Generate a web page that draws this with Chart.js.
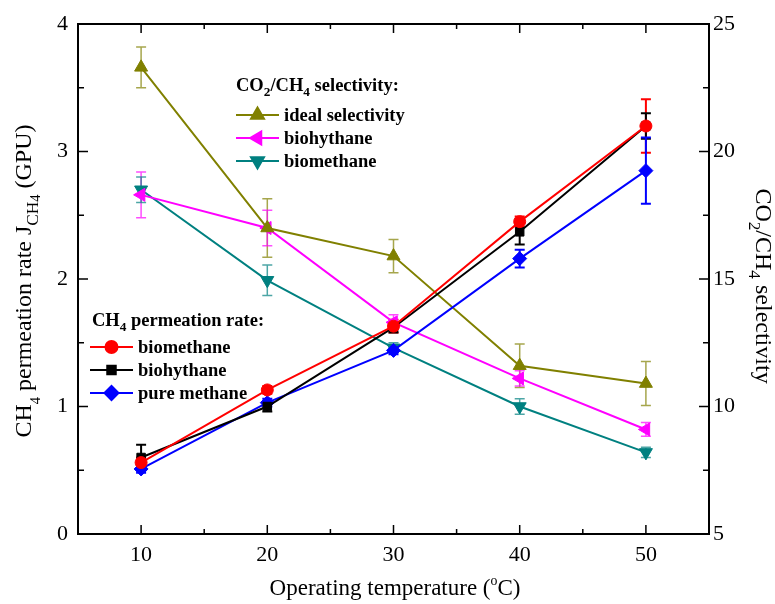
<!DOCTYPE html>
<html>
<head>
<meta charset="utf-8">
<script src="https://cdn.jsdelivr.net/npm/chart.js@4.4.0/dist/chart.umd.min.js"></script>
<style>
  html, body { margin: 0; padding: 0; background: #fff; }
  canvas { display: block; }
</style>
</head>
<body>
<canvas id="myChart" width="775" height="604"></canvas>
<script>
// operating temperature (oC)
const temps = [10, 20, 30, 40, 50];

// CH4 permeation rate (GPU), left axis
const permBiomethane = [0.56, 1.13, 1.63, 2.45, 3.20];
const permBiomethaneErr = [0.04, 0.03, 0.05, 0.04, 0.21];
const permBiohythane = [0.60, 1.00, 1.62, 2.37, 3.20];
const permBiohythaneErr = [0.10, 0.04, 0.04, 0.10, 0.10];
const permPure = [0.51, 1.03, 1.44, 2.16, 2.85];
const permPureErr = [0.03, 0.03, 0.03, 0.07, 0.26];

// CO2/CH4 selectivity, right axis
const selIdeal = [23.3, 17.0, 15.9, 11.6, 10.9];
const selIdealErr = [0.8, 1.15, 0.65, 0.85, 0.86];
const selBiohythane = [18.3, 17.0, 13.3, 11.1, 9.1];
const selBiohythaneErr = [0.9, 0.7, 0.3, 0.3, 0.27];
const selBiomethane = [18.5, 14.95, 12.3, 10.0, 8.2];
const selBiomethaneErr = [0.5, 0.6, 0.2, 0.3, 0.2];

// ticks
const xTicks = [10, 20, 30, 40, 50];
const xMinor = [15, 25, 35, 45];
const yTicks = [0, 1, 2, 3, 4];
const yMinor = [0.5, 1.5, 2.5, 3.5];
const y1Ticks = [5, 10, 15, 20, 25];
const y1Minor = [7.5, 12.5, 17.5, 22.5];

const serif = "'Liberation Serif', 'Times New Roman', serif";

function pts(vals) {
    return temps.map(function (t, i) { return {x: t, y: vals[i]}; });
}

function makeSet(label, vals, errs, color, style, radius, rot, axis) {
    return {
        label: label,
        data: pts(vals),
        errors: errs,
        yAxisID: axis,
        borderColor: color,
        backgroundColor: color,
        pointBackgroundColor: color,
        pointBorderColor: color,
        borderWidth: 2,
        pointStyle: style,
        pointRadius: radius,
        pointRotation: rot,
        pointBorderWidth: 1,
        tension: 0
    };
}

const datasets = [
    makeSet('biomethane', permBiomethane, permBiomethaneErr, '#ff0000', 'circle', 6, 0, 'y'),
    makeSet('biohythane', permBiohythane, permBiohythaneErr, '#000000', 'rect', 6, 0, 'y'),
    makeSet('pure methane', permPure, permPureErr, '#0000ff', 'rectRot', 7, 0, 'y'),
    makeSet('ideal selectivity', selIdeal, selIdealErr, '#808000', 'triangle', 7.5, 0, 'y1'),
    makeSet('biohythane', selBiohythane, selBiohythaneErr, '#ff00ff', 'triangle', 7.5, 270, 'y1'),
    makeSet('biomethane', selBiomethane, selBiomethaneErr, '#008080', 'triangle', 7.5, 180, 'y1')
];

// text with sub/superscripts: parts = [[text, mode]], mode n / b (sub) / bb (small sub) / p (sup)
function partSize(mode, size) {
    if (mode == 'b') return size * 0.72;
    if (mode == 'bb') return size * 0.6;
    if (mode == 'p') return size * 0.6;
    return size;
}
function richWidth(ctx, parts, size, weight) {
    let w = 0;
    parts.forEach(function (p) {
        ctx.font = weight + ' ' + partSize(p[1], size) + 'px ' + serif;
        w += ctx.measureText(p[0]).width;
    });
    return w;
}
function richText(ctx, parts, x, y, size, weight, center) {
    let cx = center ? x - richWidth(ctx, parts, size, weight) / 2 : x;
    ctx.textBaseline = 'alphabetic';
    ctx.textAlign = 'left';
    parts.forEach(function (p) {
        let dy = 0;
        if (p[1] == 'b') dy = size * 0.28;
        if (p[1] == 'bb') dy = size * 0.36;
        if (p[1] == 'p') dy = -size * 0.45;
        ctx.font = weight + ' ' + partSize(p[1], size) + 'px ' + serif;
        ctx.fillText(p[0], cx, y + dy);
        cx += ctx.measureText(p[0]).width;
    });
}

function legendItem(ctx, ds, x1, x2, y, label) {
    ctx.save();
    ctx.strokeStyle = ds.borderColor;
    ctx.fillStyle = ds.borderColor;
    ctx.lineWidth = 2;
    ctx.beginPath();
    ctx.moveTo(x1, y);
    ctx.lineTo(x2, y);
    ctx.stroke();
    Chart.helpers.drawPoint(ctx, {pointStyle: ds.pointStyle, radius: ds.pointRadius, rotation: ds.pointRotation, borderWidth: 1}, (x1 + x2) / 2, y);
    ctx.fillStyle = '#000';
    ctx.font = 'bold 18.5px ' + serif;
    ctx.textBaseline = 'middle';
    ctx.textAlign = 'left';
    ctx.fillText(label, x2 + 5, y + 1);
    ctx.restore();
}

const decorPlugin = {
    id: 'decor',
    beforeDatasetsDraw(chart) {
        const ctx = chart.ctx;
        ctx.save();
        chart.data.datasets.forEach(function (ds, i) {
            const meta = chart.getDatasetMeta(i);
            const ys = chart.scales[ds.yAxisID];
            ctx.strokeStyle = ds.borderColor;
            ctx.globalAlpha = ds.yAxisID == 'y1' ? 0.7 : 1;
            ctx.lineWidth = ds.yAxisID == 'y1' ? 1.5 : 2;
            meta.data.forEach(function (pt, j) {
                const v = ds.data[j].y, e = ds.errors[j];
                const top = ys.getPixelForValue(v + e), bot = ys.getPixelForValue(v - e);
                ctx.beginPath();
                ctx.moveTo(pt.x, top); ctx.lineTo(pt.x, bot);
                ctx.moveTo(pt.x - 5, top); ctx.lineTo(pt.x + 5, top);
                ctx.moveTo(pt.x - 5, bot); ctx.lineTo(pt.x + 5, bot);
                ctx.stroke();
            });
        });
        ctx.restore();
    },
    afterDraw(chart) {
        const ctx = chart.ctx;
        const a = chart.chartArea;
        const xs = chart.scales.x, ys = chart.scales.y, y1s = chart.scales.y1;
        ctx.save();
        // frame
        ctx.strokeStyle = '#000';
        ctx.lineWidth = 2;
        ctx.strokeRect(a.left, a.top, a.right - a.left, a.bottom - a.top);
        // inward ticks
        ctx.lineWidth = 1.5;
        ctx.beginPath();
        function xt(v, len) {
            const px = xs.getPixelForValue(v);
            ctx.moveTo(px, a.bottom); ctx.lineTo(px, a.bottom - len);
            ctx.moveTo(px, a.top); ctx.lineTo(px, a.top + len);
        }
        xTicks.forEach(function (v) { xt(v, 9); });
        xMinor.forEach(function (v) { xt(v, 5); });
        yTicks.forEach(function (v) { const py = ys.getPixelForValue(v); ctx.moveTo(a.left, py); ctx.lineTo(a.left + 10, py); });
        yMinor.forEach(function (v) { const py = ys.getPixelForValue(v); ctx.moveTo(a.left, py); ctx.lineTo(a.left + 6, py); });
        y1Ticks.forEach(function (v) { const py = y1s.getPixelForValue(v); ctx.moveTo(a.right, py); ctx.lineTo(a.right - 10, py); });
        y1Minor.forEach(function (v) { const py = y1s.getPixelForValue(v); ctx.moveTo(a.right, py); ctx.lineTo(a.right - 6, py); });
        ctx.stroke();

        // legends
        const ds = chart.data.datasets;
        ctx.fillStyle = '#000';
        richText(ctx, [['CO', 'n'], ['2', 'b'], ['/CH', 'n'], ['4', 'b'], [' selectivity:', 'n']], 236, 91, 18.5, 'bold', false);
        legendItem(ctx, ds[3], 236, 279, 115, 'ideal selectivity');
        legendItem(ctx, ds[4], 236, 279, 138, 'biohythane');
        legendItem(ctx, ds[5], 236, 279, 161, 'biomethane');
        ctx.fillStyle = '#000';
        richText(ctx, [['CH', 'n'], ['4', 'b'], [' permeation rate:', 'n']], 92, 326, 18.5, 'bold', false);
        legendItem(ctx, ds[0], 90, 133, 347, 'biomethane');
        legendItem(ctx, ds[1], 90, 133, 370, 'biohythane');
        legendItem(ctx, ds[2], 90, 133, 393, 'pure methane');

        // axis titles
        ctx.fillStyle = '#000';
        richText(ctx, [['Operating temperature (', 'n'], ['o', 'p'], ['C)', 'n']], 395, 595, 23, 'normal', true);

        ctx.save();
        ctx.translate(31, 281);
        ctx.rotate(-Math.PI / 2);
        richText(ctx, [['CH', 'n'], ['4', 'bb'], [' permeation rate J', 'n'], ['CH', 'b'], ['4', 'bb'], [' (GPU)', 'n']], 0, 0, 24, 'normal', true);
        ctx.restore();

        ctx.save();
        ctx.translate(756, 286);
        ctx.rotate(Math.PI / 2);
        richText(ctx, [['CO', 'n'], ['2', 'b'], ['/CH', 'n'], ['4', 'b'], [' selectivity', 'n']], 0, 0, 24, 'normal', true);
        ctx.restore();

        ctx.restore();
    }
};

const ctx = document.getElementById('myChart');
new Chart(ctx, {
    type: 'line',
    data: { datasets: datasets },
    options: {
        responsive: false,
        animation: false,
        devicePixelRatio: 1,
        layout: { padding: { top: 24, left: 0, right: 0, bottom: 0 } },
        scales: {
            x: {
                type: 'linear',
                position: 'bottom',
                min: 5,
                max: 55,
                afterBuildTicks: function (s) { s.ticks = xTicks.map(function (v) { return {value: v}; }); },
                afterFit: function (s) { s.height = 70; },
                grid: { display: false, drawTicks: false },
                border: { display: false },
                ticks: { color: '#000', padding: 8, maxRotation: 0, font: { family: serif, size: 22 } }
            },
            y: {
                position: 'left',
                min: 0,
                max: 4,
                afterBuildTicks: function (s) { s.ticks = yTicks.map(function (v) { return {value: v}; }); },
                afterFit: function (s) { s.width = 78; },
                grid: { display: false, drawTicks: false },
                border: { display: false },
                ticks: { color: '#000', padding: 10, font: { family: serif, size: 22 } }
            },
            y1: {
                position: 'right',
                min: 5,
                max: 25,
                afterBuildTicks: function (s) { s.ticks = y1Ticks.map(function (v) { return {value: v}; }); },
                afterFit: function (s) { s.width = 66; },
                grid: { display: false, drawTicks: false },
                border: { display: false },
                ticks: { color: '#000', padding: 4, font: { family: serif, size: 22 } }
            }
        },
        plugins: {
            legend: { display: false },
            tooltip: { enabled: false }
        }
    },
    plugins: [decorPlugin]
});
</script>
</body>
</html>
